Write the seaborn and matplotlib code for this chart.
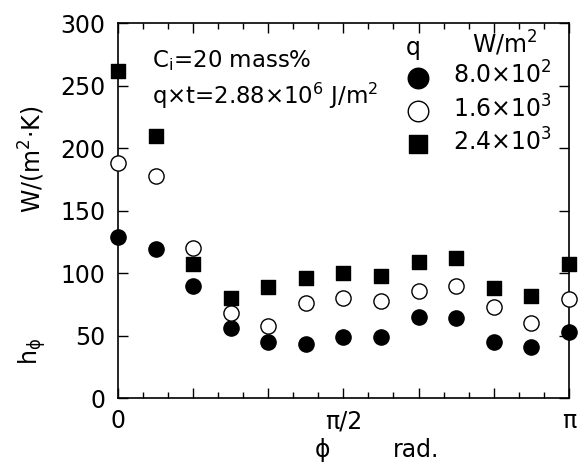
import numpy as np
import pandas as pd
import seaborn as sns
import matplotlib.pyplot as plt

sns.set_theme(style="ticks")
plt.rcParams['font.family'] = ['DejaVu Sans']
plt.rcParams['mathtext.default'] = 'regular'
plt.rcParams['text.color'] = 'black'

# angle index k -> phi = k*pi/12
k_idx = list(range(13))
h_low = [129, 119.5, 90, 56, 45, 43, 49, 49, 65, 64, 45, 41, 53]        # 8.0x10^2 W/m2
h_mid = [188, 178, 120, 68, 58, 76, 80, 78, 86, 90, 73, 60, 79]         # 1.6x10^3 W/m2
h_high = [262, 210, 107, 80, 89, 96, 100, 98, 109, 112, 88, 82, 107]    # 2.4x10^3 W/m2
q_labels = ["8.0×10$^2$", "1.6×10$^3$", "2.4×10$^3$"]
xtick_labels = ["0", "", "", "π/2", "", "", "π"]

phi = np.array(k_idx) * np.pi / 12
df = pd.DataFrame({"phi": np.tile(phi, 3),
                   "h": h_low + h_mid + h_high,
                   "q": np.repeat(q_labels, len(phi))})

fig = plt.figure(figsize=(5.84, 4.63), dpi=100)
ax = fig.add_axes([0.202, 0.140, 0.772, 0.810])

styles = {q_labels[0]: dict(marker="o", facecolor="black", s=120),
          q_labels[1]: dict(marker="o", facecolor="white", s=120),
          q_labels[2]: dict(marker="s", facecolor="black", s=100)}
for q in q_labels:
    st = styles[q]
    sns.scatterplot(data=df[df.q == q], x="phi", y="h", ax=ax, marker=st["marker"],
                    s=st["s"], color=st["facecolor"], edgecolor="black",
                    linewidth=1, label=q, clip_on=False, zorder=3)

ax.set_xlim(0, np.pi)
ax.set_ylim(0, 300)
ax.set_xticks(np.arange(0, 7) * np.pi / 6)
ax.set_xticklabels(xtick_labels)
ax.set_xticks(np.arange(0, 19) * np.pi / 18, minor=True)
ax.set_yticks(np.arange(0, 301, 50))
ax.tick_params(axis="both", which="both", direction="in", top=True, right=True,
               labelsize=17, colors="black", width=1)
ax.tick_params(axis="y", which="major", length=7, pad=9)
ax.tick_params(axis="x", which="major", length=7, pad=8)
ax.tick_params(axis="x", which="minor", length=4)
for sp in ax.spines.values():
    sp.set_linewidth(1.2)
    sp.set_color("black")
ax.set_xlabel("")
ax.set_ylabel("")

fig.text(0.552, 0.027, "ϕ", fontsize=17, ha="center", va="center")
fig.text(0.713, 0.027, "rad.", fontsize=17, ha="center", va="center")
fig.text(0.055, 0.24, "h$_ϕ$", fontsize=17, rotation=90, ha="center", va="center")
fig.text(0.055, 0.655, "W/(m$^2$·K)", fontsize=17, rotation=90, ha="center", va="center")

ax.text(0.075, 0.899, "C$_i$=20 mass%", transform=ax.transAxes, fontsize=16.5, va="center")
ax.text(0.075, 0.805, "q×t=2.88×10$^6$ J/m$^2$", transform=ax.transAxes, fontsize=16.5, va="center")
ax.text(0.654, 0.935, "q", transform=ax.transAxes, fontsize=17, ha="center", va="center")
ax.text(0.858, 0.945, "W/m$^2$", transform=ax.transAxes, fontsize=17, ha="center", va="center")

leg = ax.legend(loc="upper right", bbox_to_anchor=(0.984, 0.922), frameon=False,
                fontsize=17, handletextpad=0.5, labelspacing=0.25, borderaxespad=0.0,
                markerscale=1.35)

fig.savefig("out.png", dpi=100)
